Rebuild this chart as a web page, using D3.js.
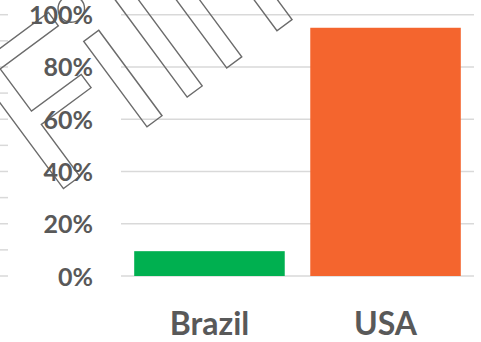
<!DOCTYPE html>
<html lang="en">
	<head>
		<meta charset="utf-8">
		<title>Brazil vs USA</title>
		<script type="text/javascript" src="https://cdn.jsdelivr.net/npm/d3@7"></script>
		<style type="text/css">
		body { margin: 0; background: #fff; }
		.grid line { stroke: #d9d9d9; stroke-width: 1.5; }
		.tick-label { font-family: Lato, sans-serif; font-weight: 700; font-size: 25px; fill: #595959; }
		.cat-label { font-family: Lato, sans-serif; font-weight: 700; font-size: 32px; fill: #595959; }
		.mark { font-family: Lato, sans-serif; font-weight: 400; font-size: 210px; fill: none; stroke: #6b6b6b; stroke-width: 1.4; }
		</style>
	</head>
	<body>
		<script type="text/javascript">

		//Width and height
		var w = 481;
		var h = 342;

		//Data
		var categories = ["Brazil", "USA"];
		var values = [0.095, 0.95];
		var colors = ["#00b050", "#f4652e"];
		var yTicks = [0, 0.2, 0.4, 0.6, 0.8, 1.0];
		var yTickLabels = ["0%", "20%", "40%", "60%", "80%", "100%"];
		var sideTicks = [0, 0.1, 0.2, 0.3, 0.4, 0.5, 0.6, 0.7, 0.8, 0.9, 1.0];

		var svg = d3.select("body")
					.append("svg")
					.attr("width", w)
					.attr("height", h);

		var xScale = d3.scaleBand()
						.domain(categories)
						.range([121, 474])
						.paddingInner(0.145)
						.paddingOuter(0.075);

		var yScale = d3.scaleLinear()
						.domain([0, 1])
						.range([276, 14.7]);

		//Gridlines
		svg.append("g")
			.attr("class", "grid")
			.selectAll("line")
			.data(yTicks)
			.enter()
			.append("line")
			.attr("x1", 121)
			.attr("x2", 474)
			.attr("y1", function(d) { return yScale(d); })
			.attr("y2", function(d) { return yScale(d); });

		//Little lines at the left edge
		svg.append("g")
			.attr("class", "grid")
			.selectAll("line")
			.data(sideTicks)
			.enter()
			.append("line")
			.attr("x1", 0)
			.attr("x2", 8)
			.attr("y1", function(d) { return yScale(d); })
			.attr("y2", function(d) { return yScale(d); });

		//Bars
		svg.selectAll("rect.bar")
			.data(values)
			.enter()
			.append("rect")
			.attr("class", "bar")
			.attr("x", function(d, i) { return xScale(categories[i]); })
			.attr("width", xScale.bandwidth())
			.attr("y", function(d) { return yScale(d); })
			.attr("height", function(d) { return yScale(0) - yScale(d); })
			.attr("fill", function(d, i) { return colors[i]; });

		//Outlined watermark text
		var mark = svg.append("text")
			.attr("class", "mark")
			.attr("transform", "translate(48,200) rotate(-36.5)");
		mark.append("tspan").text("F");
		mark.append("tspan").attr("dx", -11).text("ilm");

		//Y tick labels
		svg.selectAll("text.tick-label")
			.data(yTicks)
			.enter()
			.append("text")
			.attr("class", "tick-label")
			.attr("text-anchor", "end")
			.attr("x", 93)
			.attr("y", function(d) { return yScale(d) + 9.5; })
			.text(function(d, i) { return yTickLabels[i]; });

		//Category labels
		svg.selectAll("text.cat-label")
			.data(categories)
			.enter()
			.append("text")
			.attr("class", "cat-label")
			.attr("text-anchor", "middle")
			.attr("x", function(d) { return xScale(d) + xScale.bandwidth() / 2; })
			.attr("y", 335)
			.text(function(d) { return d; });

		</script>
	</body>
</html>
